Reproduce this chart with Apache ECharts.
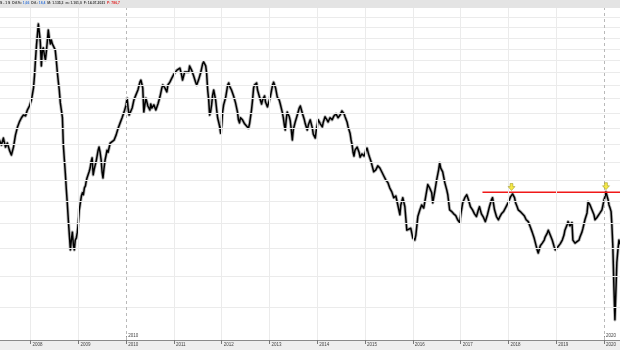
<!DOCTYPE html>
<html><head><meta charset="utf-8">
<script src="https://cdn.jsdelivr.net/npm/echarts@6/dist/echarts.min.js"></script>
<style>html,body{margin:0;padding:0;background:#fff}#c{width:620px;height:350px}</style>
</head><body><div id="c"></div>
<script>
const dates = [
'2007-05-08','2007-05-24','2007-06-08','2007-06-24','2007-07-08','2007-07-24','2007-08-08','2007-08-24','2007-09-08','2007-09-24','2007-10-08','2007-10-24','2007-11-08','2007-11-24','2007-12-08','2007-12-24',
'2008-01-08','2008-01-16','2008-01-24','2008-02-01','2008-02-08','2008-02-16','2008-02-24','2008-03-01','2008-03-08','2008-03-16','2008-03-24','2008-04-01','2008-04-08','2008-04-16','2008-04-24','2008-05-01','2008-05-08','2008-05-16','2008-05-24','2008-06-01','2008-06-08','2008-06-16','2008-07-01','2008-07-08','2008-07-16','2008-07-24','2008-08-01','2008-08-08','2008-08-16','2008-08-24','2008-09-01','2008-09-08','2008-09-16','2008-09-24','2008-10-01','2008-10-08','2008-10-16','2008-10-24','2008-11-01','2008-11-08','2008-11-16','2008-11-24','2008-12-01','2008-12-08','2008-12-16','2008-12-24',
'2009-01-01','2009-01-08','2009-01-16','2009-01-24','2009-02-01','2009-02-08','2009-02-16','2009-02-24','2009-03-01','2009-03-08','2009-03-16','2009-03-24','2009-04-01','2009-04-08','2009-04-16','2009-04-24','2009-05-01','2009-05-08','2009-05-16','2009-05-24','2009-06-01','2009-06-08','2009-06-16','2009-06-24','2009-07-01','2009-07-08','2009-07-16','2009-07-24','2009-08-01','2009-08-08','2009-08-16','2009-09-01','2009-09-16','2009-10-01','2009-10-16','2009-11-01','2009-11-16','2009-12-01','2009-12-16',
'2010-01-01','2010-01-08','2010-01-16','2010-01-24','2010-02-01','2010-02-16','2010-03-01','2010-03-16','2010-04-01','2010-04-16','2010-04-24','2010-05-01','2010-05-08','2010-05-16','2010-05-24','2010-06-01','2010-06-08','2010-06-16','2010-07-01','2010-07-08','2010-07-16','2010-08-01','2010-08-16','2010-09-01','2010-09-16','2010-10-01','2010-10-08','2010-10-24','2010-11-08','2010-11-16','2010-12-01','2010-12-16',
'2011-01-01','2011-01-16','2011-01-24','2011-02-01','2011-02-16','2011-03-01','2011-03-08','2011-03-24','2011-04-08','2011-04-24','2011-05-01','2011-05-16','2011-06-01','2011-06-16','2011-06-24','2011-07-08','2011-07-24','2011-08-08','2011-08-16','2011-08-24','2011-09-01','2011-09-08','2011-09-16','2011-09-24','2011-10-01','2011-10-08','2011-10-16','2011-10-24','2011-11-01','2011-11-16','2011-11-24','2011-12-01','2011-12-16','2011-12-24',
'2012-01-01','2012-01-08','2012-01-16','2012-02-01','2012-02-16','2012-02-24','2012-03-01','2012-03-16','2012-04-01','2012-04-16','2012-05-01','2012-05-08','2012-05-16','2012-05-24','2012-06-08','2012-06-24','2012-07-08','2012-07-24','2012-08-01','2012-08-16','2012-08-24','2012-09-01','2012-09-08','2012-09-24','2012-10-01','2012-10-16','2012-11-01','2012-11-08','2012-11-24','2012-12-01','2012-12-16',
'2013-01-08','2013-01-24','2013-02-01','2013-02-16','2013-03-01','2013-03-16','2013-03-24','2013-04-08','2013-04-16','2013-04-24','2013-05-01','2013-05-08','2013-05-16','2013-06-01','2013-06-08','2013-06-16','2013-06-24','2013-07-01','2013-07-16','2013-08-01','2013-08-16','2013-08-24','2013-09-08','2013-09-24','2013-10-01','2013-10-16','2013-10-24','2013-11-08','2013-11-24','2013-12-01','2013-12-16','2013-12-24',
'2014-01-08','2014-01-24','2014-02-08','2014-02-16','2014-03-01','2014-03-16','2014-03-24','2014-04-08','2014-04-24','2014-05-08','2014-05-24','2014-06-08','2014-06-24','2014-07-08','2014-07-24','2014-08-01','2014-08-16','2014-08-24','2014-09-08','2014-09-16','2014-09-24','2014-10-01','2014-10-08','2014-10-16','2014-11-01','2014-11-16','2014-11-24','2014-12-08','2014-12-24',
'2015-01-08','2015-01-16','2015-01-24','2015-02-01','2015-02-16','2015-02-24','2015-03-08','2015-03-16','2015-03-24','2015-04-08','2015-04-24','2015-05-08','2015-05-24','2015-06-08','2015-06-24','2015-07-08','2015-07-24','2015-08-08','2015-08-24','2015-09-08','2015-09-24','2015-10-01','2015-10-16','2015-11-01','2015-11-16','2015-12-01','2015-12-16',
'2016-01-01','2016-01-16','2016-01-24','2016-02-08','2016-02-24','2016-03-08','2016-03-24','2016-04-08','2016-04-24','2016-05-08','2016-05-24','2016-06-01','2016-06-16','2016-07-01','2016-07-16','2016-07-24','2016-08-01','2016-08-16','2016-09-01','2016-09-16','2016-09-24','2016-10-08','2016-10-24','2016-11-08','2016-11-24','2016-12-08','2016-12-24',
'2017-01-01','2017-01-16','2017-02-01','2017-02-16','2017-03-01','2017-03-16','2017-04-01','2017-04-16','2017-05-01','2017-05-16','2017-05-24','2017-06-08','2017-06-24','2017-07-08','2017-07-24','2017-08-08','2017-08-24','2017-09-01','2017-09-16','2017-10-01','2017-10-16','2017-10-24','2017-11-08','2017-11-24','2017-12-08',
'2018-01-01','2018-01-16','2018-02-01','2018-02-16','2018-02-24','2018-03-08','2018-03-16','2018-04-01','2018-04-16','2018-05-01','2018-05-16','2018-06-01','2018-06-16','2018-07-01','2018-07-16','2018-07-24','2018-08-08','2018-08-16','2018-09-01','2018-09-16','2018-10-01','2018-10-08','2018-10-24','2018-11-01','2018-11-16','2018-12-01','2018-12-16','2018-12-24',
'2019-01-08','2019-01-16','2019-02-01','2019-02-16','2019-03-01','2019-03-08','2019-03-24','2019-04-01','2019-04-16','2019-05-01','2019-05-08','2019-05-24','2019-06-08','2019-06-24','2019-07-01','2019-07-16','2019-07-24','2019-08-08','2019-08-24','2019-09-01','2019-09-16','2019-10-01','2019-10-16','2019-10-24','2019-11-08','2019-11-16','2019-12-01','2019-12-16','2019-12-24',
'2020-01-01','2020-01-08','2020-01-16','2020-01-24','2020-02-01','2020-02-08','2020-02-16','2020-02-24','2020-03-01','2020-03-08','2020-03-16','2020-03-24','2020-04-01','2020-04-08','2020-04-16','2020-04-24','2020-05-01'
];
const closes = [
713,698,719,692,704,683,669,692,728,754,770,784,793,790,810,824,
845,867,890,940,1002,1068,1124,1168,1129,1082,977,1046,1055,1024,1002,1037,1082,1138,1100,1073,1091,1073,1068,1046,1002,952,912,882,835,810,784,698,655,615,577,546,508,476,447,466,482,456,447,466,470,482,
504,530,546,562,570,565,582,587,597,607,602,623,633,650,661,615,628,639,650,655,683,692,677,655,623,607,633,655,669,683,677,704,707,713,728,750,767,784,803,
828,852,817,793,787,817,845,863,882,912,920,905,890,803,828,852,845,824,810,831,817,828,810,831,856,890,901,890,875,901,912,928,
944,952,960,952,968,940,920,952,960,952,977,960,936,912,901,920,948,985,994,998,977,948,882,845,793,803,828,863,882,845,810,784,757,734,
760,803,828,856,901,909,897,882,860,835,803,777,767,784,777,764,760,750,764,810,845,890,901,909,882,856,831,845,860,838,821,
860,901,912,890,856,845,831,803,784,760,744,777,803,787,774,744,713,744,770,793,817,824,800,777,764,744,760,777,750,731,719,744,
777,764,754,770,787,777,770,784,777,790,797,784,793,807,797,787,770,754,734,713,698,677,666,683,692,677,663,672,666,
683,689,677,666,650,639,623,618,628,639,633,628,612,602,595,582,572,558,562,541,519,541,558,537,486,486,490,
470,466,476,515,530,541,534,530,590,582,570,546,572,602,628,647,633,623,595,577,565,530,526,521,517,508,502,
519,546,558,565,553,537,530,521,515,530,537,521,513,504,519,537,553,558,530,515,508,513,521,526,534,
548,560,567,558,546,537,530,526,523,517,508,504,493,482,470,462,447,441,455,460,466,472,480,486,476,466,453,447,
451,453,459,466,476,486,497,504,495,502,466,460,460,466,472,482,490,508,523,548,541,537,519,508,513,515,523,530,541,
553,560,572,562,553,541,534,526,497,456,385,332,377,424,447,466,459
];
const yearLabels = ['2008','2009','2010','2011','2012','2013','2014','2015','2016','2017','2018','2019','2020'];
const decadeLabels = ['2010','2020'];
const gridLevels = [350,400,450,500,550,600,650,700,750,800,850,900,950,1000,1050,1100,1150,1200];
const resistanceStart = '2017-06-16', resistanceEnd = '2020-05-02', resistanceLevel = 571;
const markerDates = ['2018-01-24','2020-01-16'];
const markerValues = [584, 586];
const axisStart = '2007-05-13', axisEnd = '2020-05-02';
const priceMin = 304.7, priceMax = 1250;

function ts(d){ const p = d.split('-').map(Number); return new Date(p[0], (p[1]||1)-1, p[2]||1).getTime(); }
const yearTs = yearLabels.map(ts);
const decadeTs = decadeLabels.map(ts);
const FONT = 'Liberation Sans';
const yearFmt = v => String(new Date(v + 43200000).getFullYear());
const pricePoints = dates.map((d,i)=>[ts(d), closes[i]]);

const chart = echarts.init(document.getElementById('c'), null, {renderer:'canvas'});
chart.setOption({
  animation:false,
  backgroundColor:'#ffffff',
  title:{
    left:0, top:2, padding:0,
    text:'{k|S - 1 S  Dif.%: }{b|1,66}{k|  Dif.: }{b|18,4}{k|  M: 1.135,3  m: 1.101,0  F: 14-07-2021  }{r|P: 786,7}',
    textStyle:{ fontSize:3.4, fontFamily:FONT, rich:{
      k:{fontSize:3.4, fontFamily:FONT, color:'#333'},
      b:{fontSize:3.4, fontFamily:FONT, color:'#3a78d8'},
      r:{fontSize:3.4, fontFamily:FONT, color:'#e02424'} } }
  },
  graphic:{ elements:[
    {type:'rect', z:-5, shape:{x:0,y:0,width:620,height:8}, style:{fill:'#e4e4e4'}},
    {type:'rect', z:-5, shape:{x:0,y:340,width:620,height:10}, style:{fill:'#eeeeee'}}
  ]},
  grid:{left:0, right:0, top:8, bottom:10, containLabel:false},
  xAxis:[
    {type:'value', min:ts(axisStart), max:ts(axisEnd), position:'bottom', scale:true,
     axisLine:{show:true, onZero:false, lineStyle:{color:'#8a8a8a', width:1}},
     axisTick:{show:true, customValues:yearTs, length:4, lineStyle:{color:'#777'}},
     axisLabel:{customValues:yearTs, formatter:yearFmt, fontSize:4.5, fontFamily:FONT, color:'#444', align:'left', margin:2, padding:[0,0,0,2], showMinLabel:true, showMaxLabel:true},
     splitLine:{show:false}},
    {type:'value', min:ts(axisStart), max:ts(axisEnd), position:'bottom', scale:true,
     axisLine:{show:false, onZero:false},
     axisTick:{show:true, inside:true, customValues:decadeTs, length:4, lineStyle:{color:'#888'}},
     axisLabel:{inside:true, customValues:decadeTs, formatter:yearFmt, fontSize:4.5, fontFamily:FONT, color:'#444', align:'left', margin:2, padding:[0,0,0,2]},
     splitLine:{show:false}}
  ],
  yAxis:{type:'log', logBase:10, min:priceMin, max:priceMax, show:false},
  series:[
    {type:'line', z:1, silent:true, symbol:'none', lineStyle:{opacity:0},
     data:[[ts(axisStart), priceMin]],
     markLine:{silent:true, symbol:'none', animation:false, label:{show:false},
       lineStyle:{color:'#ebebeb', width:1, type:'solid'},
       data: gridLevels.map(v=>({yAxis:v})).concat(yearTs.map(t=>(
         decadeTs.indexOf(t)>=0 ? {xAxis:t, lineStyle:{color:'#b9b9b9', type:[3,3], width:1}} : {xAxis:t, lineStyle:{color:'#ebebeb', type:'solid', width:1}})))}
    },
    {type:'line', z:2, silent:true, showSymbol:false, symbol:'none',
     lineStyle:{color:'#b4b4b4', width:3.2, join:'round', cap:'round'}, data:pricePoints},
    {type:'line', z:3, name:'price', showSymbol:false, symbol:'none',
     lineStyle:{color:'#000000', width:1.5, join:'round', cap:'round'}, data:pricePoints},
    {type:'line', z:4, showSymbol:false, symbol:'none', lineStyle:{color:'#f01818', width:1.5},
     data:[[ts(resistanceStart), resistanceLevel],[ts(resistanceEnd), resistanceLevel]]},
    {type:'scatter', z:5, symbol:'path://M3,0 L7,0 L7,4 L10,4 L5,9 L0,4 L3,4 Z', symbolSize:[7,7],
     itemStyle:{color:'#f4e419', borderColor:'#8f8a10', borderWidth:0.6},
     data:markerDates.map((d,i)=>[ts(d), markerValues[i]])}
  ]
});
</script></body></html>
